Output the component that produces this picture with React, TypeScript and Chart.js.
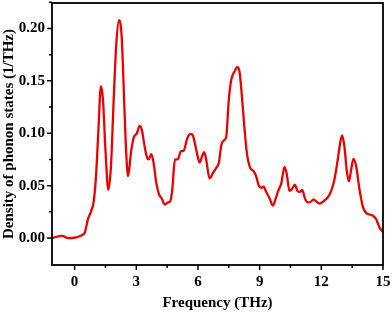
import React, { useEffect, useRef } from "react";
import { Chart, registerables } from "chart.js";

Chart.register(...registerables);

const frequency = [
  -1.1, -0.6, -0.32, 0, 0.32, 0.49, 0.65, 0.81, 0.93, 1.05, 1.15, 1.28, 1.38, 1.5, 1.64,
  1.77, 1.9, 2.03, 2.16, 2.29, 2.38, 2.48, 2.6, 2.75, 2.88, 3.03, 3.16, 3.27, 3.4, 3.52,
  3.6, 3.73, 3.84, 3.97, 4.1, 4.23, 4.39, 4.54, 4.65, 4.75, 4.88, 5.02, 5.17, 5.3, 5.46,
  5.62, 5.75, 5.92, 6.08, 6.2, 6.3, 6.4, 6.56, 6.73, 6.89, 7.02, 7.13, 7.24, 7.37, 7.5,
  7.62, 7.78, 7.91, 8.02, 8.15, 8.27, 8.38, 8.54, 8.7, 8.83, 8.96, 9.08, 9.19, 9.32, 9.48,
  9.64, 9.77, 9.9, 10.05, 10.21, 10.32, 10.45, 10.58, 10.71, 10.84, 10.97, 11.07, 11.2, 11.35,
  11.51, 11.62, 11.75, 11.91, 12.1, 12.32, 12.48, 12.64, 12.8, 12.92, 13.01, 13.12, 13.24,
  13.34, 13.45, 13.56, 13.69, 13.86, 14.02, 14.18, 14.34, 14.5, 14.67, 14.83, 15.0,
];

const dos = [
  0.0, 0.002, 0.0, 0.0003, 0.0025, 0.005, 0.018, 0.026, 0.035, 0.062, 0.1, 0.145, 0.132, 0.084, 0.046,
  0.069, 0.132, 0.186, 0.208, 0.192, 0.148, 0.094, 0.059, 0.083, 0.096, 0.1, 0.107, 0.103, 0.088, 0.077,
  0.075, 0.08, 0.072, 0.053, 0.042, 0.038, 0.032, 0.034, 0.035, 0.046, 0.075, 0.075, 0.083, 0.083, 0.094,
  0.0994, 0.098, 0.084, 0.072, 0.078, 0.082, 0.075, 0.057, 0.062, 0.067, 0.072, 0.088, 0.093, 0.096, 0.132,
  0.151, 0.159, 0.163, 0.159, 0.132, 0.103, 0.081, 0.067, 0.064, 0.059, 0.05, 0.048, 0.049, 0.044, 0.038,
  0.031, 0.037, 0.045, 0.052, 0.068, 0.061, 0.045, 0.047, 0.051, 0.045, 0.044, 0.046, 0.038, 0.034,
  0.035, 0.037, 0.035, 0.033, 0.035, 0.039, 0.045, 0.056, 0.075, 0.091, 0.098, 0.088, 0.064,
  0.054, 0.065, 0.0755, 0.069, 0.046, 0.03, 0.024, 0.0225, 0.0216, 0.018, 0.01, 0.006,
];

const xTicks = [0, 3, 6, 9, 12, 15];
const xMinorTicks = [1.5, 4.5, 7.5, 10.5, 13.5];
const yTicks = [0, 0.05, 0.1, 0.15, 0.2];
const yMinorTicks = [0.025, 0.075, 0.125, 0.175, 0.225];

const xTitle = "Frequency (THz)";
const yTitle = "Density of phonon states (1/THz)";

const FONT = "'Liberation Serif', 'Times New Roman', serif";

const framePlugin = {
  id: "frameTicks",
  afterDraw(chart: any) {
    const ctx = chart.ctx;
    const { left, right, top, bottom } = chart.chartArea;
    const xs = chart.scales.x;
    const ys = chart.scales.y;
    ctx.save();
    ctx.strokeStyle = "#000";
    ctx.lineWidth = 1.8;
    ctx.strokeRect(left, top, right - left, bottom - top);
    ctx.lineWidth = 1.5;
    ctx.beginPath();
    for (const v of xTicks) {
      const p = xs.getPixelForValue(v);
      ctx.moveTo(p, bottom);
      ctx.lineTo(p, bottom + 5);
    }
    for (const v of xMinorTicks) {
      const p = xs.getPixelForValue(v);
      ctx.moveTo(p, bottom);
      ctx.lineTo(p, bottom + 3);
    }
    for (const v of yTicks) {
      const p = ys.getPixelForValue(v);
      ctx.moveTo(left, p);
      ctx.lineTo(left - 5, p);
    }
    for (const v of yMinorTicks) {
      const p = ys.getPixelForValue(v);
      ctx.moveTo(left, p);
      ctx.lineTo(left - 3, p);
    }
    ctx.stroke();
    ctx.restore();
  },
};

export default function App() {
  const ref = useRef<HTMLCanvasElement | null>(null);

  useEffect(() => {
    if (!ref.current) return;
    const chart = new Chart(ref.current, {
      type: "line",
      data: {
        datasets: [
          {
            data: frequency.map((f, i) => ({ x: f, y: dos[i] })),
            borderColor: "#ee0000",
            borderWidth: 2.3,
            pointRadius: 0,
            fill: false,
            cubicInterpolationMode: "monotone",
          },
        ],
      },
      options: {
        animation: false,
        responsive: true,
        maintainAspectRatio: false,
        layout: { padding: { top: 3, right: 9, left: 0, bottom: 0 } },
        plugins: { legend: { display: false }, tooltip: { enabled: false } },
        scales: {
          x: {
            type: "linear",
            min: -1.1,
            max: 15,
            grid: { display: false, drawTicks: false, tickLength: 0 },
            border: { display: false },
            afterBuildTicks: (s: any) => {
              s.ticks = xTicks.map((v) => ({ value: v }));
            },
            afterFit: (s: any) => {
              s.height = 50;
              s.paddingLeft = 0;
              s.paddingRight = 0;
            },
            ticks: {
              color: "#000",
              padding: 8,
              maxRotation: 0,
              font: { family: FONT, size: 15, weight: "bold" },
              callback: (v: any) => String(v),
            },
            title: {
              display: true,
              text: xTitle,
              color: "#000",
              padding: { top: 0, bottom: 3 },
              font: { family: FONT, size: 15, weight: "bold" },
            },
          },
          y: {
            type: "linear",
            min: -0.0257,
            max: 0.2243,
            grid: { display: false, drawTicks: false, tickLength: 0 },
            border: { display: false },
            afterBuildTicks: (s: any) => {
              s.ticks = yTicks.map((v) => ({ value: v }));
            },
            afterFit: (s: any) => {
              s.width = 52;
              s.paddingTop = 0;
              s.paddingBottom = 0;
            },
            ticks: {
              color: "#000",
              padding: 7,
              font: { family: FONT, size: 15, weight: "bold" },
              callback: (v: any) => Number(v).toFixed(2),
            },
            title: {
              display: true,
              text: yTitle,
              color: "#000",
              padding: { top: 0, bottom: 0 },
              font: { family: FONT, size: 15, weight: "bold" },
            },
          },
        },
      },
      plugins: [framePlugin],
    } as any);
    return () => chart.destroy();
  }, []);

  return (
    <div style={{ position: "fixed", left: 0, top: 0, width: 392, height: 315, background: "#fff" }}>
      <canvas ref={ref} />
    </div>
  );
}
